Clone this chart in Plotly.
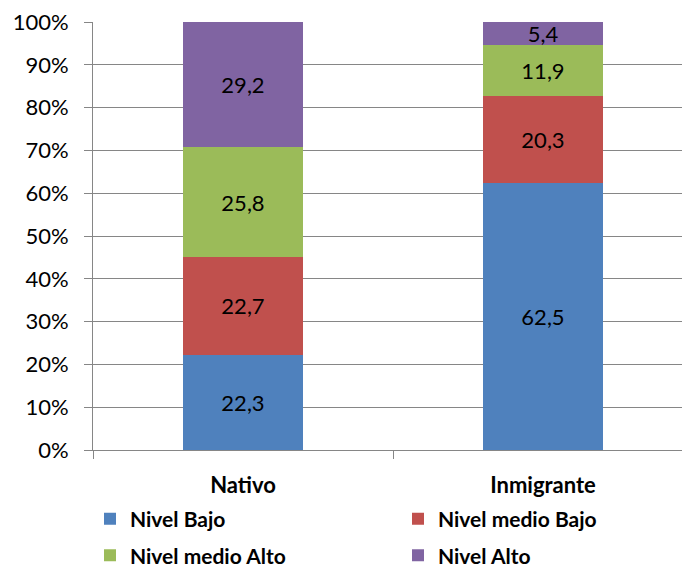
import plotly.graph_objects as go

categories = ["Nativo", "Inmigrante"]
series_names = ["Nivel Bajo", "Nivel medio Bajo", "Nivel medio Alto", "Nivel Alto"]
nivel_bajo = [22.3, 62.5]
nivel_medio_bajo = [22.7, 20.3]
nivel_medio_alto = [25.8, 11.9]
nivel_alto = [29.2, 5.4]
y_ticks = [0, 10, 20, 30, 40, 50, 60, 70, 80, 90, 100]

series_values = [nivel_bajo, nivel_medio_bajo, nivel_medio_alto, nivel_alto]
colors = ["#4F81BD", "#C0504D", "#9BBB59", "#8064A2"]
legends = ["legend", "legend", "legend2", "legend2"]

FONT = "Lato"
fig = go.Figure()
for name, vals, col, lg in zip(series_names, series_values, colors, legends):
    fig.add_trace(go.Bar(
        x=categories, y=vals, name=name,
        marker=dict(color=col, line=dict(width=0)),
        width=0.4,
        text=[f"{v:.1f}".replace(".", ",") for v in vals],
        textposition="inside", insidetextanchor="middle",
        textfont=dict(family=FONT, size=22, color="black"),
        constraintext="none",
        legend=lg,
        hoverinfo="skip",
    ))

# the page body adds an 8px offset, so margins are compensated
fig.update_layout(
    barmode="stack", barnorm="percent",
    width=690, height=568,
    margin=dict(l=85, r=5, t=14, b=126, autoexpand=False),
    paper_bgcolor="white", plot_bgcolor="white",
    font=dict(family=FONT, color="black"),
    showlegend=True,
    legend=dict(orientation="h", x=-0.005, y=-0.1134, xanchor="left", yanchor="top",
                entrywidth=263, traceorder="normal",
                font=dict(family=FONT, size=21, color="black", weight="bold"),
                bgcolor="rgba(0,0,0,0)"),
    legend2=dict(orientation="h", x=-0.005, y=-0.199, xanchor="left", yanchor="top",
                 entrywidth=263, traceorder="normal",
                 font=dict(family=FONT, size=21, color="black", weight="bold"),
                 bgcolor="rgba(0,0,0,0)"),
)
fig.update_xaxes(
    type="category", range=[-0.5, 1.5], automargin=False,
    showgrid=False, showline=True, linecolor="#868686", linewidth=1,
    ticks="outside", tickson="boundaries", ticklen=8, tickcolor="#868686",
    ticklabelstandoff=16, ticklabeloverflow="allow",
    tickfont=dict(family=FONT, size=22, color="black", weight="bold"),
    fixedrange=True,
)
fig.update_yaxes(
    range=[0, 100], tickvals=y_ticks, ticktext=[f"{t}%" for t in y_ticks],
    automargin=False,
    showgrid=True, gridcolor="#868686", gridwidth=1,
    showline=True, linecolor="#868686", linewidth=1,
    ticks="outside", ticklen=8, tickcolor="#868686",
    ticklabelstandoff=11, ticklabeloverflow="allow",
    tickfont=dict(family=FONT, size=22, color="black"),
    zeroline=False, fixedrange=True,
)

fig.write_html("out.html")
